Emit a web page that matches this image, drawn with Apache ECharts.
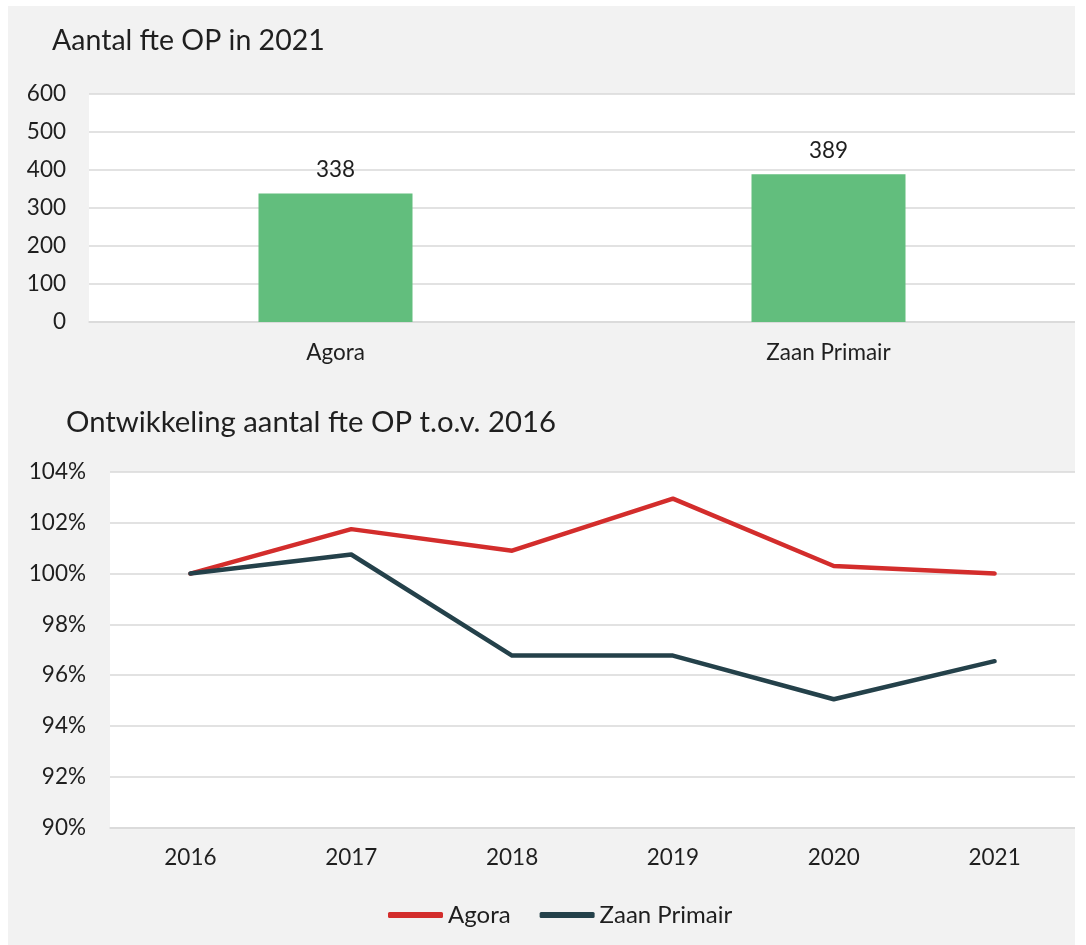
<!DOCTYPE html>
<html>
<head>
<meta charset="utf-8">
<script src="https://cdn.jsdelivr.net/npm/echarts@6/dist/echarts.min.js"></script>
<style>
  html, body { margin: 0; padding: 0; background: #fff; }
  #main { position: absolute; left: 8px; top: 6px; width: 1067px; height: 939px; background: #f2f2f2; }
</style>
</head>
<body>
<div id="main"></div>
<script>
// bovenste grafiek: fte in 2021
var schoolNames = ["Agora", "Zaan Primair"];
var fte2021 = [338, 389];

// onderste grafiek: ontwikkeling t.o.v. 2016 (in %)
var years = ["2016", "2017", "2018", "2019", "2020", "2021"];
var agoraIndex = [100, 101.75, 100.9, 102.95, 100.3, 100.0];
var zaanIndex = [100, 100.75, 96.77, 96.77, 95.05, 96.55];

var font = "Lato";
var textColor = "#1f1f1f";
var gridColor = "#d9d9d9";

var chart = echarts.init(document.getElementById("main"));

var option = {
  animation: false,
  textStyle: { fontFamily: font },
  title: [
    {
      text: "Aantal fte OP in 2021",
      left: 39,
      top: 15,
      textStyle: { fontFamily: font, fontSize: 28.5, fontWeight: "normal", color: textColor },
    },
    {
      text: "Ontwikkeling aantal fte OP t.o.v. 2016",
      left: 53,
      top: 397,
      textStyle: { fontFamily: font, fontSize: 29.3, fontWeight: "normal", color: textColor },
    },
  ],
  legend: {
    left: 375,
    top: 892,
    itemWidth: 55,
    itemHeight: 6,
    itemGap: 29,
    icon: "roundRect",
    textStyle: { fontFamily: font, fontSize: 24, color: textColor },
    data: ["Agora", "Zaan Primair"],
  },
  grid: [
    {
      left: 81, top: 88, right: 0, height: 228,
      show: true, backgroundColor: "#fff", borderWidth: 0,
    },
    {
      left: 102, top: 466, right: 0, height: 355.5,
      show: true, backgroundColor: "#fff", borderWidth: 0,
    },
  ],
  xAxis: [
    {
      type: "category",
      gridIndex: 0,
      data: schoolNames,
      axisLine: { lineStyle: { color: gridColor, width: 1.5 } },
      axisTick: { show: false },
      axisLabel: { margin: 19, fontSize: 22.5, color: textColor, fontFamily: font },
    },
    {
      type: "category",
      gridIndex: 1,
      data: years,
      axisLine: { lineStyle: { color: gridColor, width: 1.5 } },
      axisTick: { show: false },
      axisLabel: { margin: 19, fontSize: 22.5, color: textColor, fontFamily: font },
    },
  ],
  yAxis: [
    {
      type: "value",
      gridIndex: 0,
      min: 0,
      max: 600,
      interval: 100,
      splitLine: { lineStyle: { color: gridColor, width: 1.5 } },
      axisLabel: { margin: 23, fontSize: 22.5, color: textColor, fontFamily: font },
    },
    {
      type: "value",
      gridIndex: 1,
      min: 90,
      max: 104,
      interval: 2,
      splitLine: { lineStyle: { color: gridColor, width: 1.5 } },
      axisLabel: { margin: 24, fontSize: 22.5, color: textColor, fontFamily: font, formatter: "{value}%" },
    },
  ],
  series: [
    {
      name: "fte",
      type: "bar",
      xAxisIndex: 0,
      yAxisIndex: 0,
      data: fte2021,
      barWidth: 154,
      itemStyle: { color: "#62be7d" },
      label: {
        show: true,
        position: "top",
        distance: 12,
        fontSize: 22.5,
        color: textColor,
        fontFamily: font,
      },
    },
    {
      name: "Agora",
      type: "line",
      xAxisIndex: 1,
      yAxisIndex: 1,
      data: agoraIndex,
      symbol: "none",
      lineStyle: { color: "#d32d2c", width: 4.5, cap: "round", join: "round" },
      itemStyle: { color: "#d32d2c" },
    },
    {
      name: "Zaan Primair",
      type: "line",
      xAxisIndex: 1,
      yAxisIndex: 1,
      data: zaanIndex,
      symbol: "none",
      lineStyle: { color: "#24414a", width: 4.5, cap: "round", join: "round" },
      itemStyle: { color: "#24414a" },
    },
  ],
};

chart.setOption(option);
</script>
</body>
</html>
